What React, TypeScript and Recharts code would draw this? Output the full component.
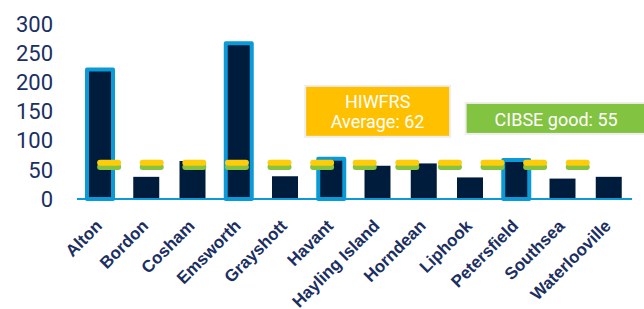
import React from "react";
import { ComposedChart, Bar, Line, Cell, XAxis, YAxis } from "recharts";

const categories = [
  "Alton",
  "Bordon",
  "Cosham",
  "Emsworth",
  "Grayshott",
  "Havant",
  "Hayling Island",
  "Horndean",
  "Liphook",
  "Petersfield",
  "Southsea",
  "Waterlooville",
];
const values = [222, 38, 65, 267, 39, 69, 57, 61, 37, 67, 35, 38];
const highlighted = [true, false, false, true, false, true, false, false, false, true, false, false];
const hiwfrsAverage = 62;
const cibseGood = 55;
const yTicks = [0, 50, 100, 150, 200, 250, 300];

const NAVY = "#001C3D";
const BLUE = "#0A9AD8";
const TEXT = "#1B2F62";
const YELLOW = "#FFC000";
const YELLOW_DASH = "#FFCC0A";
const GREEN = "#82C341";
const GREEN_DASH = "#86C33F";

const chartData = categories.map((name, i) => ({
  name,
  value: values[i],
  avg: hiwfrsAverage,
  good: cibseGood,
}));

const XTick = (props: any) => {
  const { x, y, payload } = props;
  const tx = x + 3;
  const ty = y + 28;
  return (
    <text
      x={tx}
      y={ty}
      transform={`rotate(-45 ${tx} ${ty})`}
      textAnchor="end"
      fontFamily="'Liberation Sans', Arial, sans-serif"
      fontWeight={700}
      fontSize={17}
      fill={TEXT}
    >
      {payload.value}
    </text>
  );
};

// label boxes are hung on one point of each reference series
const avgLabel = (props: any) => {
  const { cx, cy, index } = props;
  if (index !== 6) return <g key={`a-${index}`} />;
  return (
    <g key={`a-${index}`}>
      <rect x={cx - 72.5} y={cy - 77} width={145} height={51} fill={YELLOW} stroke="#EEEEEE" strokeWidth={2} />
      <text x={cx} y={cy - 55} textAnchor="middle" fontFamily="Roboto, sans-serif" fontSize={18} fill="#fff">
        HIWFRS
      </text>
      <text x={cx} y={cy - 35} textAnchor="middle" fontFamily="Roboto, sans-serif" fontSize={18} fill="#fff">
        Average: {hiwfrsAverage}
      </text>
    </g>
  );
};

const goodLabel = (props: any) => {
  const { cx, cy, index } = props;
  if (index !== 10) return <g key={`g-${index}`} />;
  return (
    <g key={`g-${index}`}>
      <rect x={cx - 97} y={cy - 64} width={186} height={31} fill={GREEN} stroke="#EEEEEE" strokeWidth={2} />
      <text x={cx - 6.5} y={cy - 41} textAnchor="middle" fontFamily="Roboto, sans-serif" fontSize={18} fill="#fff">
        CIBSE good: {cibseGood}
      </text>
    </g>
  );
};

const App = () => {
  return (
    <div style={{ position: "absolute", left: 0, top: 0 }}>
      <ComposedChart width={644} height={309} data={chartData} margin={{ top: 24, right: 12, left: 0, bottom: 0 }}>
        <XAxis
          dataKey="name"
          interval={0}
          height={110}
          tickLine={false}
          tickSize={0}
          tickMargin={0}
          axisLine={{ stroke: BLUE, strokeWidth: 2 }}
          tick={<XTick />}
        />
        <YAxis
          width={77}
          domain={[0, 300]}
          ticks={yTicks}
          interval={0}
          axisLine={false}
          tickLine={false}
          tickSize={0}
          tickMargin={24}
          tick={{ fill: TEXT, fontSize: 22, fontFamily: "Roboto, sans-serif" }}
        />
        <Bar dataKey="value" barSize={26} fill={NAVY} isAnimationActive={false}>
          {chartData.map((_, index) => (
            <Cell
              key={`cell-${index}`}
              fill={NAVY}
              stroke={highlighted[index] ? BLUE : "none"}
              strokeWidth={highlighted[index] ? 4 : 0}
              strokeLinejoin="round"
            />
          ))}
        </Bar>
        <Line
          type="linear"
          dataKey="good"
          stroke={GREEN_DASH}
          strokeWidth={6}
          strokeDasharray="18 24.6"
          strokeLinecap="round"
          dot={goodLabel}
          activeDot={false}
          isAnimationActive={false}
        />
        <Line
          type="linear"
          dataKey="avg"
          stroke={YELLOW_DASH}
          strokeWidth={6}
          strokeDasharray="18 24.6"
          strokeLinecap="round"
          dot={avgLabel}
          activeDot={false}
          isAnimationActive={false}
        />
      </ComposedChart>
    </div>
  );
};

export default App;
